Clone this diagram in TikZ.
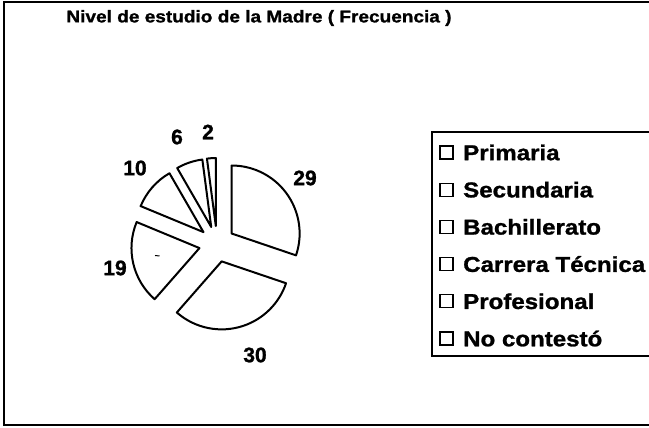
\documentclass[tikz,border=0pt]{standalone}
\usepackage{fontspec}
\setmainfont{Liberation Sans}
\newfontfamily\chartfont{Liberation Sans Bold}[FakeStretch=1.12,FakeBold=1.2]
\newfontfamily\numfont{Liberation Sans Bold}[FakeBold=1.2]
\usetikzlibrary{calc,positioning}

\tikzset{
  slice/.style={draw=black,line width=2pt,fill=white,line join=round},
  keybox/.style={draw=black,line width=1.3pt,minimum size=13pt,inner sep=0pt},
  keytext/.style={anchor=west,inner sep=3pt,font=\chartfont\fontsize{21.5}{23}\selectfont},
  pielabel/.style={font=\numfont\fontsize{21}{23}\selectfont}
}

\begin{document}
\begin{tikzpicture}[x=1pt,y=1pt]
\useasboundingbox (0,0) rectangle (649,428);
\draw[line width=2pt] (655,426) -- (4,426) -- (4,3) -- (655,3);

\node[font=\chartfont\fontsize{17}{19}\selectfont] (title) at (259,410) {Nivel de estudio de la Madre ( Frecuencia )};

\coordinate (ctr) at (217,184);
\foreach \s/\e in {-18.75/90,-131.25/-18.75,157.5/228.75,120/157.5,97.5/120,90/97.5}
  \draw[slice] ($(ctr)+({(\s+\e)/2}:18pt)$) -- ++(\s:68pt) arc[start angle=\s,end angle=\e,radius=68pt] -- cycle;
\draw[line width=1pt] (155,172.5) -- (159.5,172);

\node[pielabel] (l29) at (305,250) {29};
\node[pielabel] (l30) at (255,73) {30};
\node[pielabel] (l19) at (115,160) {19};
\node[pielabel] (l10) at (135,260) {10};
\node[pielabel] (l6) at (177,291) {6};
\node[pielabel] (l2) at (208,296) {2};

\draw[line width=1.2pt] (655,296) -- (432,296) -- (432,72) -- (655,72);
\foreach \t [count=\i] in {Primaria,Secundaria,Bachillerato,Carrera Técnica,Profesional,No contestó} {
  \node[keybox] (key\i) at (446.5,{275.5-(\i-1)*37.2}) {};
  \node[keytext] (txt\i) at (460,{275.5-(\i-1)*37.2}) {\t};
}

\end{tikzpicture}
\end{document}
